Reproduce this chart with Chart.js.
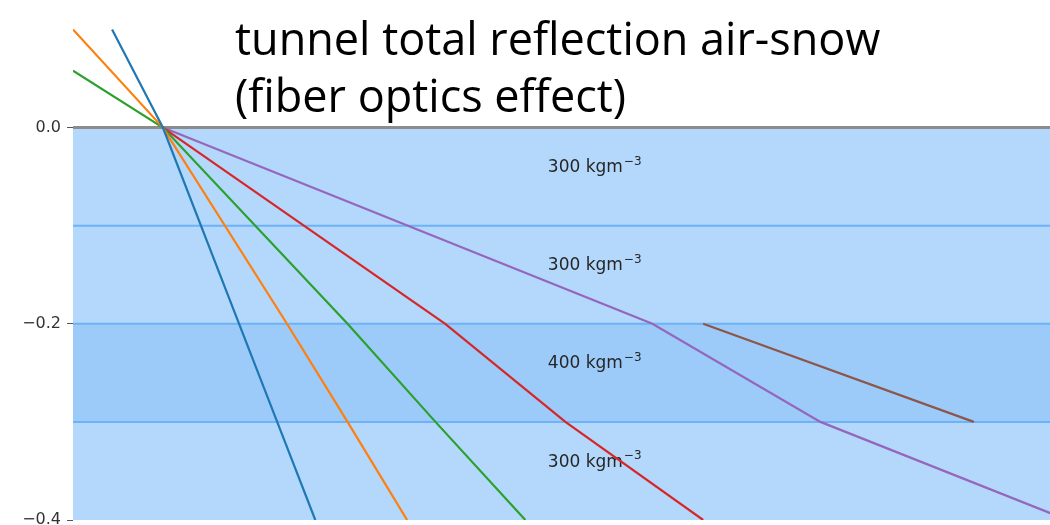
<!DOCTYPE html>
<html><head><meta charset="utf-8">
<script src="https://cdn.jsdelivr.net/npm/chart.js@4"></script>
<style>html,body{margin:0;padding:0;background:#fff}#wrap{width:1050px;height:525px}</style>
</head><body><div id="wrap"><canvas id="c" width="1050" height="525"></canvas></div>
<script>
// ray paths (x, depth)
const rayBlueX = [0.040, 0.092, 0.170, 0.209, 0.248];
const rayBlueY = [0.1, 0, -0.2, -0.3, -0.4];
const rayOrangeX = [0.0, 0.092, 0.219, 0.281, 0.342];
const rayOrangeY = [0.1, 0, -0.2, -0.3, -0.4];
const rayGreenX = [0.0, 0.092, 0.281, 0.371, 0.463];
const rayGreenY = [0.058, 0, -0.2, -0.3, -0.4];
const rayRedX = [0.092, 0.381, 0.504, 0.645];
const rayRedY = [0, -0.2, -0.3, -0.4];
const rayPurpleX = [0.092, 0.593, 0.765, 1.018];
const rayPurpleY = [0, -0.2, -0.3, -0.4];
const rayBrownX = [0.645, 0.922];
const rayBrownY = [-0.2, -0.3];
// snow layers
const layerBounds = [0, -0.1, -0.2, -0.3, -0.4];
const layerDensity = [300, 300, 400, 300];
const yTicks = [0, -0.2, -0.4];
const titleLines = ['tunnel total reflection air-snow', '(fiber optics effect)'];

const zip = (xs, ys) => xs.map((x, i) => ({x, y: ys[i]}));
const rays = [
  [rayBlueX, rayBlueY, '#1f77b4'],
  [rayOrangeX, rayOrangeY, '#ff7f0e'],
  [rayGreenX, rayGreenY, '#2ca02c'],
  [rayRedX, rayRedY, '#d62728'],
  [rayPurpleX, rayPurpleY, '#9467bd'],
  [rayBrownX, rayBrownY, '#8c564b']
];
const fmt = v => (v < 0 ? '\u2212' : '') + Math.abs(v).toFixed(1);

const layersPlugin = {
  id: 'layers',
  beforeDatasetsDraw(chart) {
    const {ctx, chartArea: a, scales: {y}} = chart;
    ctx.save();
    for (let i = 0; i < layerDensity.length; i++) {
      const t = y.getPixelForValue(layerBounds[i]);
      const b = y.getPixelForValue(layerBounds[i + 1]);
      ctx.fillStyle = layerDensity[i] >= 400 ? '#9ccbfa' : '#b3d8fc';
      ctx.fillRect(a.left, t, a.right - a.left, b - t);
    }
    ctx.lineWidth = 2;
    ctx.strokeStyle = '#6db2f7';
    for (let i = 1; i < layerBounds.length - 1; i++) {
      const p = y.getPixelForValue(layerBounds[i]);
      ctx.beginPath(); ctx.moveTo(a.left, p); ctx.lineTo(a.right, p); ctx.stroke();
    }
    const p0 = y.getPixelForValue(layerBounds[0]);
    ctx.lineWidth = 3; ctx.strokeStyle = '#8c8c8c';
    ctx.beginPath(); ctx.moveTo(a.left, p0); ctx.lineTo(a.right, p0); ctx.stroke();
    // labels
    const x = chart.scales.x;
    ctx.fillStyle = '#262626';
    ctx.textBaseline = 'middle';
    for (let i = 0; i < layerDensity.length; i++) {
      const ym = y.getPixelForValue(layerBounds[i] - 0.041);
      const xl = x.getPixelForValue(0.486);
      ctx.font = '17px "DejaVu Sans"';
      const main = layerDensity[i] + ' kgm';
      ctx.fillText(main, xl, ym);
      const w = ctx.measureText(main).width;
      ctx.font = '12px "DejaVu Sans"';
      ctx.fillText('\u22123', xl + w + 1, ym - 6);
    }
    ctx.restore();
  },
  afterDraw(chart) {
    const {ctx} = chart;
    ctx.save();
    ctx.fillStyle = '#000';
    ctx.font = '45px "Open Sans"';
    ctx.textBaseline = 'alphabetic';
    ctx.fillText(titleLines[0], 235, 55);
    ctx.fillText(titleLines[1], 235, 112);
    ctx.restore();
  }
};

new Chart(document.getElementById('c'), {
  type: 'line',
  data: {
    datasets: rays.map(([xs, ys, c]) => ({
      data: zip(xs, ys), borderColor: c, borderWidth: 2.2, pointRadius: 0, fill: false, tension: 0
    }))
  },
  options: {
    responsive: false, animation: false, devicePixelRatio: 1,
    layout: {padding: {left: 0, right: 0, top: 0, bottom: 5}},
    plugins: {legend: {display: false}, tooltip: {enabled: false}},
    scales: {
      x: {type: 'linear', min: 0, max: 1, display: false},
      y: {
        type: 'linear', min: -0.4, max: 0.13,
        afterBuildTicks: s => { s.ticks = yTicks.map(v => ({value: v})); },
        afterFit: s => { s.width = 73; s.paddingTop = 0; s.paddingBottom = 0; },
        border: {display: false},
        grid: {drawOnChartArea: false, drawTicks: true, tickLength: 6, color: '#555', lineWidth: 1},
        ticks: {callback: v => fmt(v), color: '#333', font: {family: 'DejaVu Sans', size: 16}, padding: 6, autoSkip: false}
      }
    }
  },
  plugins: [layersPlugin]
});
</script>
</body></html>
